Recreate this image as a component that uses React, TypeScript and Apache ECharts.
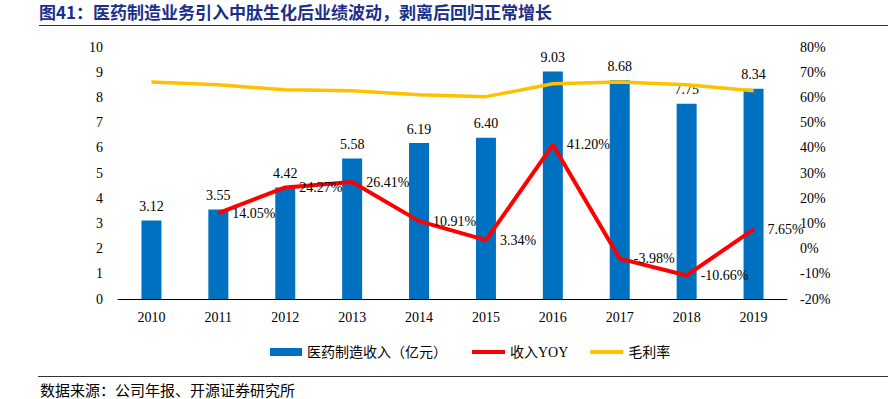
import React, { useEffect, useRef } from "react";
import * as echarts from "echarts";

const categories = ["2010", "2011", "2012", "2013", "2014", "2015", "2016", "2017", "2018", "2019"];
const revenue = [3.12, 3.55, 4.42, 5.58, 6.19, 6.4, 9.03, 8.68, 7.75, 8.34];
const yoy = [null, 14.05, 24.27, 26.41, 10.91, 3.34, 41.2, -3.98, -10.66, 7.65];
const grossMargin = [66.1, 65.0, 63.0, 62.6, 61.1, 60.3, 65.4, 66.1, 65.0, 62.6];
const yoyLabelOffsets = [0, 0, -27, -30, 0, 0, 0, 0, 0, 0];

const SERIF = "'Liberation Serif', 'Times New Roman', 'Noto Sans CJK SC', serif";
const CJK = "'Liberation Serif', 'Noto Sans CJK SC', serif";

export default function App() {
  const ref = useRef<HTMLDivElement>(null);
  useEffect(() => {
    if (!ref.current) return;
    const chart = echarts.init(ref.current, null, { renderer: "svg" });
    const yoyLabelBase = {
      show: true,
      position: "right",
      distance: 13,
      color: "#000",
      fontFamily: SERIF,
      fontSize: 14,
      formatter: (p: any) => (p.value == null ? "" : Number(p.value).toFixed(2) + "%"),
    };
    chart.setOption({
      animation: false,
      backgroundColor: "#ffffff",
      grid: { left: 118, right: 101, top: 47, bottom: 100, containLabel: false },
      legend: [
        {
          left: 265,
          top: 340,
          itemWidth: 32,
          itemHeight: 8,
          itemGap: 18,
          textStyle: { fontFamily: CJK, fontSize: 14, color: "#000" },
          data: [{ name: "医药制造收入（亿元）", icon: "rect" }],
        },
        {
          left: 467,
          top: 340,
          itemWidth: 33,
          itemHeight: 4,
          itemGap: 22,
          textStyle: { fontFamily: CJK, fontSize: 14, color: "#000" },
          data: [
            { name: "收入YOY", icon: "rect" },
            { name: "毛利率", icon: "rect" },
          ],
        },
      ],
      xAxis: {
        type: "category",
        data: categories,
        axisLine: { lineStyle: { color: "#000", width: 1 } },
        axisTick: { show: false },
        axisLabel: { color: "#000", fontFamily: SERIF, fontSize: 14, margin: 11 },
      },
      yAxis: [
        {
          type: "value",
          min: 0,
          max: 10,
          interval: 1,
          axisLine: { show: false },
          axisTick: { show: false },
          splitLine: { show: false },
          axisLabel: { color: "#000", fontFamily: SERIF, fontSize: 14, margin: 15 },
        },
        {
          type: "value",
          min: -20,
          max: 80,
          interval: 10,
          axisLine: { show: false },
          axisTick: { show: false },
          splitLine: { show: false },
          axisLabel: {
            color: "#000",
            fontFamily: SERIF,
            fontSize: 14,
            margin: 13,
            formatter: "{value}%",
          },
        },
      ],
      series: [
        {
          name: "医药制造收入（亿元）",
          type: "bar",
          data: revenue,
          barWidth: 20,
          itemStyle: { color: "#0070C0" },
          label: {
            show: true,
            position: "top",
            distance: 7,
            color: "#000",
            fontFamily: SERIF,
            fontSize: 14,
            formatter: (p: any) => Number(p.value).toFixed(2),
          },
          z: 1,
        },
        {
          name: "收入YOY",
          type: "line",
          yAxisIndex: 1,
          data: yoy.map((v, i) => ({
            value: v,
            label: { ...yoyLabelBase, offset: [yoyLabelOffsets[i], 0] },
          })),
          color: "#FF0000",
          lineStyle: { color: "#FF0000", width: 4 },
          itemStyle: { color: "#FF0000" },
          symbol: "circle",
          symbolSize: 2,
          showSymbol: true,
          label: yoyLabelBase,
          labelLayout: { hideOverlap: false },
          z: 3,
        },
        {
          name: "毛利率",
          type: "line",
          yAxisIndex: 1,
          data: grossMargin,
          color: "#FFC000",
          lineStyle: { color: "#FFC000", width: 3.5 },
          itemStyle: { color: "#FFC000" },
          symbol: "none",
          z: 2,
        },
      ],
      graphic: [
        {
          type: "text",
          left: 39,
          top: 3,
          style: {
            text: "图41：医药制造业务引入中肽生化后业绩波动，剥离后回归正常增长",
            fill: "#1B2F8A",
            fontFamily: "'Noto Sans CJK SC', sans-serif",
            fontWeight: "bold",
            fontSize: 17,
          },
        },
        {
          type: "line",
          shape: { x1: 39, y1: 25.5, x2: 888, y2: 25.5 },
          style: { stroke: "#333", lineWidth: 1.2 },
        },
        {
          type: "line",
          shape: { x1: 38, y1: 376.5, x2: 888, y2: 376.5 },
          style: { stroke: "#333", lineWidth: 1.2 },
        },
        {
          type: "text",
          left: 40,
          top: 382,
          style: {
            text: "数据来源：公司年报、开源证券研究所",
            fill: "#000",
            fontFamily: "'Noto Sans CJK SC', sans-serif",
            fontSize: 15,
          },
        },
      ],
    });
    return () => chart.dispose();
  }, []);
  return (
    <div
      ref={ref}
      style={{ position: "fixed", left: 0, top: 0, width: 888, height: 399, background: "#fff" }}
    />
  );
}
